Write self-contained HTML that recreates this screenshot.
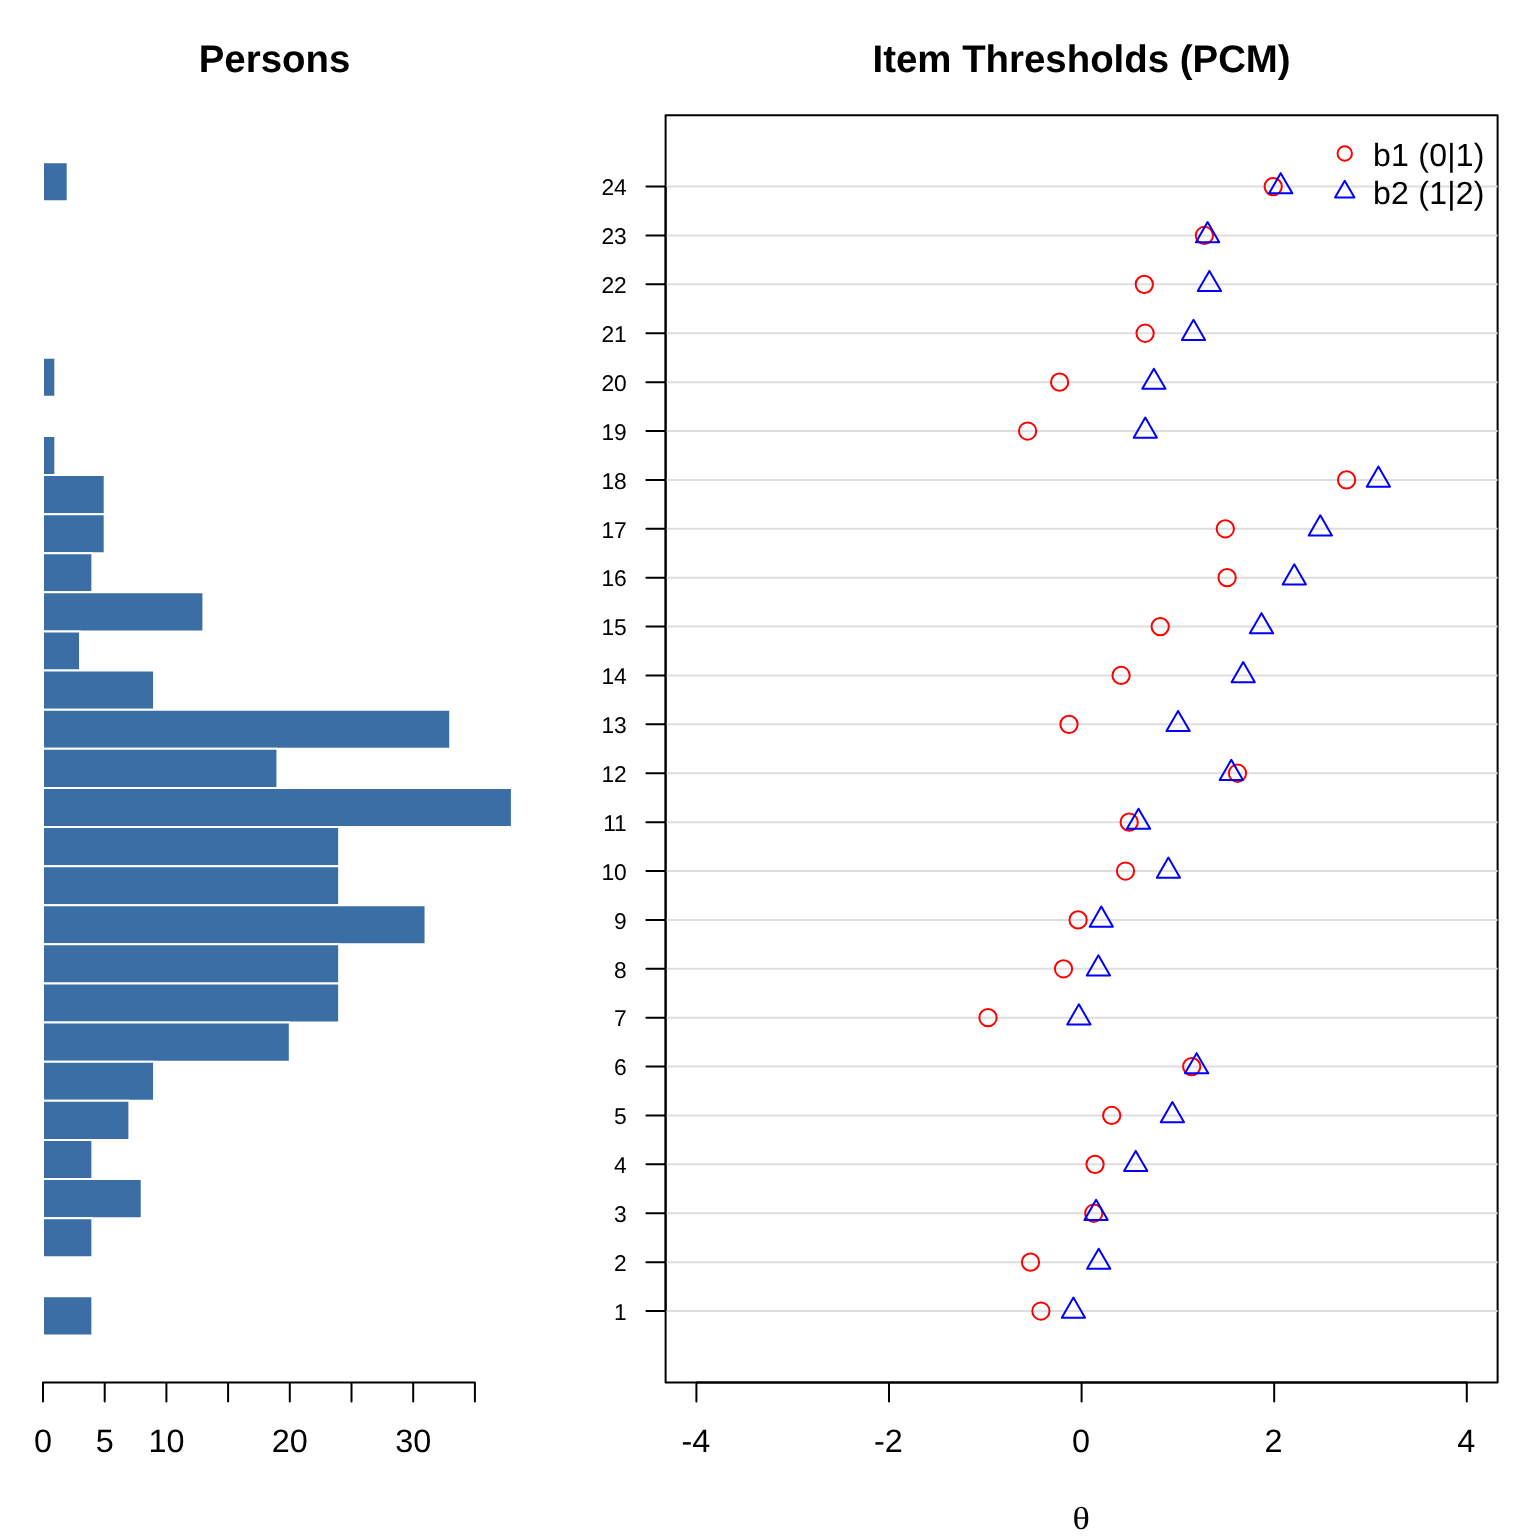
<!DOCTYPE html>
<html lang="en"><head><meta charset="utf-8"><title>Wright map</title>
<style>
html,body{margin:0;padding:0;background:#fff;}
svg{display:block;}
text{font-family:"Liberation Sans",Arial,Helvetica,sans-serif;fill:#000;text-rendering:geometricPrecision;}
.t{font-size:38.4px;font-weight:bold;text-anchor:middle;}
.a{font-size:32.4px;text-anchor:middle;}
.y{font-size:22.8px;text-anchor:end;}
.l{font-size:32px;text-anchor:start;letter-spacing:0.25px;}
.th{font-family:"Liberation Serif","DejaVu Serif",serif;font-size:32px;text-anchor:middle;}
.ax{stroke:#000;stroke-width:2;fill:none;stroke-linecap:round;stroke-linejoin:round;}
.g{stroke:#dedede;stroke-width:2;fill:none;stroke-linecap:butt;}
.c{stroke:#f00;stroke-width:2;fill:none;}
.d{stroke:#00f;stroke-width:2;fill:none;stroke-linejoin:round;}
</style></head><body>
<svg width="1536" height="1536" viewBox="0 0 1536 1536">
<rect x="0" y="0" width="1536" height="1536" fill="#fff"/>
<text class="t" x="274.5" y="72">Persons</text>
<g fill="#3A6EA5" stroke="#fff" stroke-width="2" stroke-linejoin="round">
<rect x="43.00" y="162.13" width="24.68" height="39.11"/>
<rect x="43.00" y="357.68" width="12.34" height="39.11"/>
<rect x="43.00" y="435.91" width="12.34" height="39.11"/>
<rect x="43.00" y="475.02" width="61.70" height="39.11"/>
<rect x="43.00" y="514.13" width="61.70" height="39.11"/>
<rect x="43.00" y="553.24" width="49.36" height="39.11"/>
<rect x="43.00" y="592.35" width="160.42" height="39.11"/>
<rect x="43.00" y="631.46" width="37.02" height="39.11"/>
<rect x="43.00" y="670.57" width="111.06" height="39.11"/>
<rect x="43.00" y="709.68" width="407.22" height="39.11"/>
<rect x="43.00" y="748.79" width="234.46" height="39.11"/>
<rect x="43.00" y="787.91" width="468.92" height="39.11"/>
<rect x="43.00" y="827.02" width="296.16" height="39.11"/>
<rect x="43.00" y="866.13" width="296.16" height="39.11"/>
<rect x="43.00" y="905.24" width="382.54" height="39.11"/>
<rect x="43.00" y="944.35" width="296.16" height="39.11"/>
<rect x="43.00" y="983.46" width="296.16" height="39.11"/>
<rect x="43.00" y="1022.57" width="246.80" height="39.11"/>
<rect x="43.00" y="1061.68" width="111.06" height="39.11"/>
<rect x="43.00" y="1100.79" width="86.38" height="39.11"/>
<rect x="43.00" y="1139.90" width="49.36" height="39.11"/>
<rect x="43.00" y="1179.02" width="98.72" height="39.11"/>
<rect x="43.00" y="1218.13" width="49.36" height="39.11"/>
<rect x="43.00" y="1296.35" width="49.36" height="39.11"/>
</g>
<path class="ax" d="M43.00 1382.40H474.90M43.00 1382.40v19.2M104.70 1382.40v19.2M166.40 1382.40v19.2M228.10 1382.40v19.2M289.80 1382.40v19.2M351.50 1382.40v19.2M413.20 1382.40v19.2M474.90 1382.40v19.2"/>
<text class="a" x="43.00" y="1451.5">0</text>
<text class="a" x="104.70" y="1451.5">5</text>
<text class="a" x="166.40" y="1451.5">10</text>
<text class="a" x="289.80" y="1451.5">20</text>
<text class="a" x="413.20" y="1451.5">30</text>
<text class="t" x="1081.60" y="71.5">Item Thresholds (PCM)</text>
<rect class="ax" x="665.60" y="115.20" width="832.00" height="1267.20"/>
<path class="g" d="M665.60 1311.02H1497.60M665.60 1262.13H1497.60M665.60 1213.24H1497.60M665.60 1164.36H1497.60M665.60 1115.47H1497.60M665.60 1066.58H1497.60M665.60 1017.69H1497.60M665.60 968.80H1497.60M665.60 919.91H1497.60M665.60 871.02H1497.60M665.60 822.13H1497.60M665.60 773.24H1497.60M665.60 724.36H1497.60M665.60 675.47H1497.60M665.60 626.58H1497.60M665.60 577.69H1497.60M665.60 528.80H1497.60M665.60 479.91H1497.60M665.60 431.02H1497.60M665.60 382.13H1497.60M665.60 333.24H1497.60M665.60 284.36H1497.60M665.60 235.47H1497.60M665.60 186.58H1497.60"/>
<path class="ax" d="M665.60 1311.02V186.58M665.60 1311.02h-19.2M665.60 1262.13h-19.2M665.60 1213.24h-19.2M665.60 1164.36h-19.2M665.60 1115.47h-19.2M665.60 1066.58h-19.2M665.60 1017.69h-19.2M665.60 968.80h-19.2M665.60 919.91h-19.2M665.60 871.02h-19.2M665.60 822.13h-19.2M665.60 773.24h-19.2M665.60 724.36h-19.2M665.60 675.47h-19.2M665.60 626.58h-19.2M665.60 577.69h-19.2M665.60 528.80h-19.2M665.60 479.91h-19.2M665.60 431.02h-19.2M665.60 382.13h-19.2M665.60 333.24h-19.2M665.60 284.36h-19.2M665.60 235.47h-19.2M665.60 186.58h-19.2"/>
<text class="y" x="626.8" y="1320.00">1</text>
<text class="y" x="626.8" y="1271.00">2</text>
<text class="y" x="626.8" y="1222.00">3</text>
<text class="y" x="626.8" y="1173.00">4</text>
<text class="y" x="626.8" y="1124.00">5</text>
<text class="y" x="626.8" y="1075.00">6</text>
<text class="y" x="626.8" y="1026.00">7</text>
<text class="y" x="626.8" y="978.00">8</text>
<text class="y" x="626.8" y="929.00">9</text>
<text class="y" x="626.8" y="880.00">10</text>
<text class="y" x="626.8" y="831.00">11</text>
<text class="y" x="626.8" y="782.00">12</text>
<text class="y" x="626.8" y="733.00">13</text>
<text class="y" x="626.8" y="684.00">14</text>
<text class="y" x="626.8" y="635.00">15</text>
<text class="y" x="626.8" y="586.00">16</text>
<text class="y" x="626.8" y="538.00">17</text>
<text class="y" x="626.8" y="489.00">18</text>
<text class="y" x="626.8" y="440.00">19</text>
<text class="y" x="626.8" y="391.00">20</text>
<text class="y" x="626.8" y="342.00">21</text>
<text class="y" x="626.8" y="293.00">22</text>
<text class="y" x="626.8" y="244.00">23</text>
<text class="y" x="626.8" y="195.00">24</text>
<path class="ax" d="M696.41 1382.40H1466.79M696.41 1382.40v19.2M889.01 1382.40v19.2M1081.60 1382.40v19.2M1274.19 1382.40v19.2M1466.79 1382.40v19.2"/>
<text class="a" x="695.81" y="1451.5">-4</text>
<text class="a" x="888.41" y="1451.5">-2</text>
<text class="a" x="1081.00" y="1451.5">0</text>
<text class="a" x="1273.59" y="1451.5">2</text>
<text class="a" x="1466.19" y="1451.5">4</text>
<text class="th" transform="translate(1081.20 1528.7) scale(1.13 1)" x="0" y="0">θ</text>
<circle class="c" cx="1040.90" cy="1311.02" r="8.64"/>
<circle class="c" cx="1030.50" cy="1262.13" r="8.64"/>
<circle class="c" cx="1093.75" cy="1213.24" r="8.64"/>
<circle class="c" cx="1095.05" cy="1164.36" r="8.64"/>
<circle class="c" cx="1111.70" cy="1115.47" r="8.64"/>
<circle class="c" cx="1191.70" cy="1066.58" r="8.64"/>
<circle class="c" cx="988.00" cy="1017.69" r="8.64"/>
<circle class="c" cx="1063.50" cy="968.80" r="8.64"/>
<circle class="c" cx="1078.10" cy="919.91" r="8.64"/>
<circle class="c" cx="1125.50" cy="871.02" r="8.64"/>
<circle class="c" cx="1129.20" cy="822.13" r="8.64"/>
<circle class="c" cx="1237.50" cy="773.24" r="8.64"/>
<circle class="c" cx="1069.00" cy="724.36" r="8.64"/>
<circle class="c" cx="1121.10" cy="675.47" r="8.64"/>
<circle class="c" cx="1160.20" cy="626.58" r="8.64"/>
<circle class="c" cx="1227.10" cy="577.69" r="8.64"/>
<circle class="c" cx="1225.30" cy="528.80" r="8.64"/>
<circle class="c" cx="1346.60" cy="479.91" r="8.64"/>
<circle class="c" cx="1027.60" cy="431.02" r="8.64"/>
<circle class="c" cx="1059.60" cy="382.13" r="8.64"/>
<circle class="c" cx="1145.10" cy="333.24" r="8.64"/>
<circle class="c" cx="1144.30" cy="284.36" r="8.64"/>
<circle class="c" cx="1204.40" cy="235.47" r="8.64"/>
<circle class="c" cx="1273.20" cy="186.58" r="8.64"/>
<path class="d" d="M1073.40 1297.59L1085.04 1317.74L1061.76 1317.74Z"/>
<path class="d" d="M1098.70 1248.70L1110.34 1268.85L1087.06 1268.85Z"/>
<path class="d" d="M1096.10 1199.81L1107.74 1219.96L1084.46 1219.96Z"/>
<path class="d" d="M1135.70 1150.92L1147.34 1171.07L1124.06 1171.07Z"/>
<path class="d" d="M1172.40 1102.03L1184.04 1122.18L1160.76 1122.18Z"/>
<path class="d" d="M1196.60 1053.14L1208.24 1073.30L1184.96 1073.30Z"/>
<path class="d" d="M1078.90 1004.25L1090.54 1024.41L1067.26 1024.41Z"/>
<path class="d" d="M1098.40 955.36L1110.04 975.52L1086.76 975.52Z"/>
<path class="d" d="M1101.30 906.47L1112.94 926.63L1089.66 926.63Z"/>
<path class="d" d="M1168.40 857.59L1180.04 877.74L1156.76 877.74Z"/>
<path class="d" d="M1138.50 808.70L1150.14 828.85L1126.86 828.85Z"/>
<path class="d" d="M1231.30 759.81L1242.94 779.96L1219.66 779.96Z"/>
<path class="d" d="M1178.10 710.92L1189.74 731.07L1166.46 731.07Z"/>
<path class="d" d="M1243.20 662.03L1254.84 682.18L1231.56 682.18Z"/>
<path class="d" d="M1261.50 613.14L1273.14 633.30L1249.86 633.30Z"/>
<path class="d" d="M1294.30 564.25L1305.94 584.41L1282.66 584.41Z"/>
<path class="d" d="M1320.30 515.36L1331.94 535.52L1308.66 535.52Z"/>
<path class="d" d="M1378.40 466.47L1390.04 486.63L1366.76 486.63Z"/>
<path class="d" d="M1145.30 417.59L1156.94 437.74L1133.66 437.74Z"/>
<path class="d" d="M1153.90 368.70L1165.54 388.85L1142.26 388.85Z"/>
<path class="d" d="M1193.50 319.81L1205.14 339.96L1181.86 339.96Z"/>
<path class="d" d="M1209.40 270.92L1221.04 291.07L1197.76 291.07Z"/>
<path class="d" d="M1207.60 222.03L1219.24 242.18L1195.96 242.18Z"/>
<path class="d" d="M1280.70 173.14L1292.34 193.30L1269.06 193.30Z"/>
<circle class="c" cx="1344.75" cy="153.5" r="7.2"/>
<path class="d" d="M1344.75 180.70L1354.45 197.50L1335.05 197.50Z"/>
<text class="l" x="1373" y="165.8">b1 (0|1)</text>
<text class="l" x="1373" y="204.2">b2 (1|2)</text>
</svg>
</body></html>
